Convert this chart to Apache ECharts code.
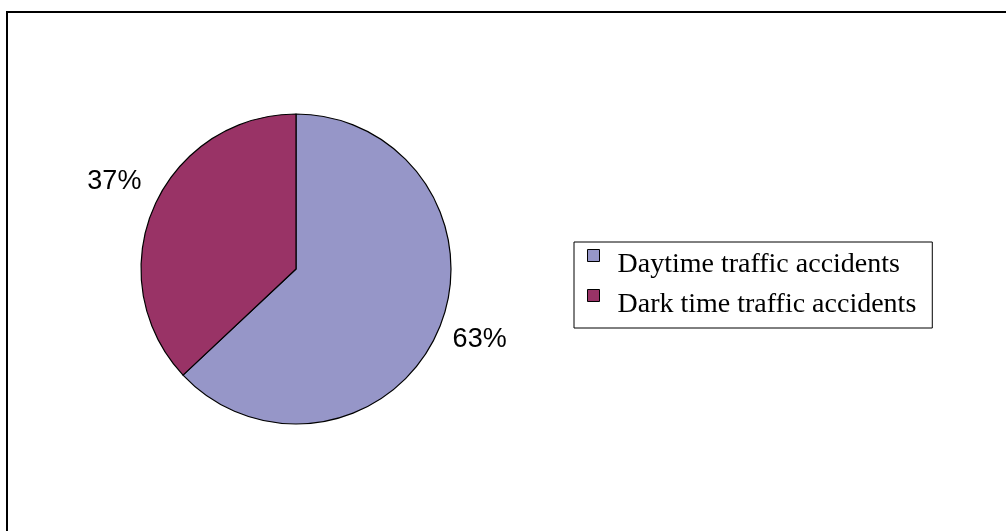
<!DOCTYPE html>
<html>
<head>
<meta charset="utf-8">
<script src="https://cdn.jsdelivr.net/npm/echarts@6/dist/echarts.min.js"></script>
<style>
  html, body { margin: 0; padding: 0; background: #fff; }
  #chart { width: 1006px; height: 531px; }
</style>
</head>
<body>
<div id="chart"></div>
<script>
// Share of traffic accidents by time of day (percent)
const categories = ['Daytime traffic accidents', 'Dark time traffic accidents'];
const shares = [63, 37];
const sliceColors = ['#9696C8', '#993366'];

const pieData = categories.map((name, i) => ({
  name: name,
  value: shares[i],
  itemStyle: { color: sliceColors[i] }
}));

// Legend key: a 12px square sitting at the top of a 30px tall slot
// (the zero-length segment only stretches the slot, it draws nothing)
const legendKey = 'path://M0,0L12,0L12,12L0,12Z M0,30L0,30';

const chart = echarts.init(document.getElementById('chart'), null, { renderer: 'canvas' });

chart.setOption({
  animation: false,
  backgroundColor: '#ffffff',
  graphic: [{
    type: 'rect',
    silent: true,
    shape: { x: 7, y: 12, width: 1200, height: 700 },
    style: { fill: 'none', stroke: '#000', lineWidth: 2 }
  }],
  legend: {
    data: categories,
    orient: 'vertical',
    left: 574,
    top: 242,
    padding: [7, 16, 8, 13],
    itemGap: 9,
    itemWidth: 12,
    itemHeight: 30,
    icon: legendKey,
    backgroundColor: '#fff',
    borderColor: '#000',
    borderWidth: 1,
    borderRadius: 0,
    itemStyle: { borderColor: '#000', borderWidth: 1 },
    textStyle: {
      fontFamily: '"Liberation Serif", "Times New Roman", serif',
      fontSize: 28,
      color: '#000',
      lineHeight: 30,
      padding: [0, 0, 0, 13]
    }
  },
  series: [
    {
      // the visible pie
      type: 'pie',
      center: [296, 269],
      radius: 155,
      startAngle: 90,
      clockwise: true,
      silent: true,
      label: { show: false },
      labelLine: { show: false },
      itemStyle: { borderColor: '#000', borderWidth: 1.2 },
      data: pieData
    },
    {
      // transparent twin whose mid-radius carries the percentage labels
      type: 'pie',
      center: [297, 261],
      radius: [0, 392],
      startAngle: 90,
      clockwise: true,
      silent: true,
      legendHoverLink: false,
      itemStyle: { color: 'rgba(0,0,0,0)', borderWidth: 0 },
      label: {
        show: true,
        position: 'inside',
        formatter: '{c}%',
        fontFamily: '"Liberation Sans", Arial, sans-serif',
        fontSize: 27,
        color: '#000'
      },
      labelLine: { show: false },
      data: categories.map((name, i) => ({ name: name, value: shares[i] }))
    }
  ]
});
</script>
</body>
</html>
